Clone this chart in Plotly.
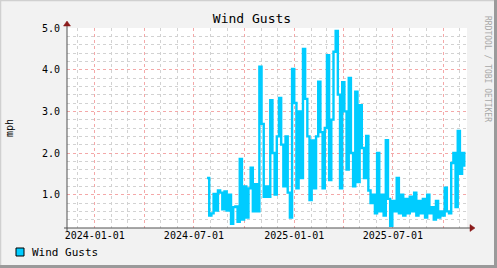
import plotly.graph_objects as go
import pandas as pd

# ---- data ----
start_date = "2024-07-25"
step_days = 4
gust_mph = [
    1.40, 0.50, 0.55, 1.02, 0.62, 1.10, 1.05, 0.65, 1.08, 0.62,
    1.00, 0.30, 0.70, 0.72, 0.35, 1.86, 0.40, 1.20, 0.45, 1.15,
    1.65, 0.60, 1.25, 0.60, 4.07, 2.70, 0.95, 1.20, 0.95, 3.27,
    2.00, 1.00, 2.40, 3.32, 2.20, 1.20, 2.40, 1.05, 0.45, 4.02,
    3.20, 1.15, 3.00, 1.40, 4.50, 3.30, 2.40, 0.87, 2.30, 1.15,
    2.40, 3.71, 2.50, 1.15, 2.60, 4.35, 1.35, 2.80, 4.43, 4.93,
    3.40, 1.15, 3.70, 3.00, 1.60, 3.80, 2.00, 1.20, 3.47, 1.30,
    3.15, 2.12, 1.40, 2.41, 1.10, 0.80, 1.00, 0.55, 2.00, 0.60,
    1.00, 0.50, 2.31, 0.90, 0.25, 0.85, 0.60, 1.40, 0.55, 1.00,
    0.50, 0.90, 0.55, 0.95, 0.60, 1.05, 0.50, 0.85, 0.55, 0.90,
    0.45, 1.00, 0.55, 0.70, 0.40, 0.85, 0.45, 0.60, 0.50, 1.17,
    0.60, 0.55, 1.76, 2.00, 0.70, 2.53, 1.50, 2.00, 1.67,
]
dates = pd.date_range(start_date, periods=len(gust_mph), freq=f"{step_days}D")

x_range = ["2023-11-11", "2025-11-14"]
y_range = [0.2, 5.0]
quarter_ticks = ["2024-01-01", "2024-04-01", "2024-07-01", "2024-10-01",
                 "2025-01-01", "2025-04-01", "2025-07-01", "2025-10-01"]
quarter_labels = ["2024-01-01", "", "2024-07-01", "", "2025-01-01", "", "2025-07-01", ""]

series_name = "Wind Gusts"
series_color = "#00CCFF"

# ---- geometry (pixels) ----
W, H = 497, 268
L, R, T, B = 67, 30, 28, 40
pw, ph = W - L - R, H - T - B

def px(xp):
    return (xp - L) / pw

def py(yp):
    return (H - B - yp) / ph

mono = "DejaVu Sans Mono"
fig = go.Figure()
fig.add_trace(go.Scatter(
    x=dates, y=gust_mph, mode="lines", line=dict(color=series_color, width=2.4, shape="hv"),
    name=series_name, showlegend=False, hoverinfo="skip",
))

grid_minor = "#D2D2D2"
grid_major = "#F4A8A8"

fig.update_layout(
    width=W, height=H,
    margin=dict(l=L, r=R, t=T, b=B, pad=0),
    paper_bgcolor="#F2F2F2",
    plot_bgcolor="#FFFFFF",
    font=dict(family=mono, size=10, color="#000000"),
    title=dict(text="Wind Gusts", x=252 / W, xref="container", xanchor="center",
               y=1 - 18 / H, yref="container", yanchor="middle",
               font=dict(family=mono, size=13, color="#000000")),
    xaxis=dict(
        range=x_range, type="date", automargin=False,
        tickvals=quarter_ticks, ticktext=quarter_labels,
        showgrid=True, gridcolor=grid_major, griddash="dot", gridwidth=1,
        minor=dict(dtick="M1", tick0="2024-01-01", showgrid=True,
                   gridcolor=grid_minor, griddash="dot", gridwidth=1),
        showline=False, zeroline=False, ticks="", ticklen=0,
        tickfont=dict(family=mono, size=10, color="#000000"),
    ),
    yaxis=dict(
        range=y_range, tick0=0, dtick=1.0, tickformat=".1f", automargin=False,
        showgrid=True, gridcolor=grid_major, griddash="dot", gridwidth=1,
        minor=dict(dtick=0.2, tick0=0, showgrid=True,
                   gridcolor=grid_minor, griddash="dot", gridwidth=1),
        showline=False, zeroline=False, ticks="", ticklen=0,
        ticklabelstandoff=6,
        title=dict(text="mph", font=dict(family=mono, size=10), standoff=26),
        tickfont=dict(family=mono, size=10, color="#000000"),
    ),
)

shapes = []
# outer 3D frame
shapes.append(dict(type="line", xref="paper", yref="paper", x0=px(0.5), x1=px(W), y0=py(0.5), y1=py(0.5),
                   line=dict(color="#D0D0D0", width=1.5), layer="above"))
shapes.append(dict(type="line", xref="paper", yref="paper", x0=px(0.5), x1=px(0.5), y0=py(0), y1=py(H),
                   line=dict(color="#D0D0D0", width=1.5), layer="above"))
shapes.append(dict(type="line", xref="paper", yref="paper", x0=px(W - 1.5), x1=px(W - 1.5), y0=py(0), y1=py(H),
                   line=dict(color="#9A9A9A", width=3), layer="above"))
shapes.append(dict(type="line", xref="paper", yref="paper", x0=px(0), x1=px(W), y0=py(H - 1.5), y1=py(H - 1.5),
                   line=dict(color="#9A9A9A", width=3), layer="above"))
# axes
shapes.append(dict(type="line", xref="paper", yref="paper", x0=px(L - 3), x1=px(472), y0=0, y1=0,
                   line=dict(color="#505050", width=1), layer="above"))
shapes.append(dict(type="line", xref="paper", yref="paper", x0=0, x1=0, y0=py(H - B + 3), y1=py(24),
                   line=dict(color="#505050", width=1), layer="above"))
# arrowheads
shapes.append(dict(type="path", xref="paper", yref="paper", xsizemode="pixel", ysizemode="pixel",
                   xanchor=px(470), yanchor=0, path="M 0 -3.5 L 5 0 L 0 3.5 Z",
                   fillcolor="#8B1A1A", line=dict(color="#8B1A1A", width=0.5), layer="above"))
shapes.append(dict(type="path", xref="paper", yref="paper", xsizemode="pixel", ysizemode="pixel",
                   xanchor=0, yanchor=py(26), path="M -3.5 0 L 3.5 0 L 0 5 Z",
                   fillcolor="#8B1A1A", line=dict(color="#8B1A1A", width=0.5), layer="above"))
# legend swatch
shapes.append(dict(type="rect", xref="paper", yref="paper", x0=px(16), x1=px(24), y0=py(256), y1=py(248),
                   fillcolor=series_color, line=dict(color="#000000", width=1), layer="above"))
fig.update_layout(shapes=shapes)

fig.add_annotation(xref="paper", yref="paper", x=px(30), y=py(252), text=series_name,
                   showarrow=False, xanchor="left", yanchor="middle",
                   font=dict(family=mono, size=11, color="#000000"))
fig.add_annotation(xref="paper", yref="paper", x=px(487), y=py(14), text="RRDTOOL / TOBI OETIKER",
                   showarrow=False, xanchor="center", yanchor="top", textangle=90,
                   font=dict(family=mono, size=8, color="#A8A8A8"))

fig.write_html("out.html")
